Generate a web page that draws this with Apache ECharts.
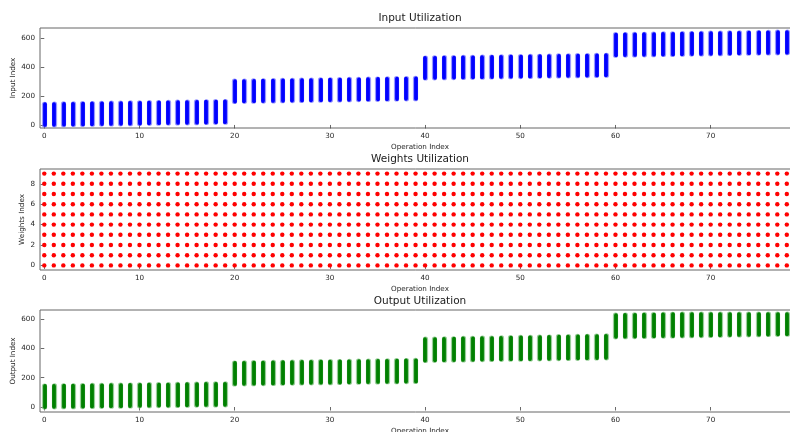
<!DOCTYPE html>
<html>
<head>
<meta charset="utf-8">
<script src="https://cdn.jsdelivr.net/npm/echarts@6/dist/echarts.min.js"></script>
<style>
  html, body { margin: 0; padding: 0; background: #ffffff; }
  #chart { width: 790px; height: 432px; }
</style>
</head>
<body>
<div id="chart"></div>
<script>
// Operation indices on the shared x axis
const ops = [0, 1, 2, 3, 4, 5, 6, 7, 8, 9, 10, 11, 12, 13, 14, 15, 16, 17, 18, 19,
  20, 21, 22, 23, 24, 25, 26, 27, 28, 29, 30, 31, 32, 33, 34, 35, 36, 37, 38, 39,
  40, 41, 42, 43, 44, 45, 46, 47, 48, 49, 50, 51, 52, 53, 54, 55, 56, 57, 58, 59,
  60, 61, 62, 63, 64, 65, 66, 67, 68, 69, 70, 71, 72, 73, 74, 75, 76, 77, 78];

// Range of input indices touched by each operation
const inputStart = [0, 1, 2, 3, 4, 5, 6, 7, 8, 9, 10, 11, 12, 13, 14, 15, 16, 17, 18, 19,
  162, 163, 164, 165, 166, 167, 168, 169, 170, 171, 172, 173, 174, 175, 176, 177, 178, 179, 180, 181,
  324, 325, 326, 327, 328, 329, 330, 331, 332, 333, 334, 335, 336, 337, 338, 339, 340, 341, 342, 343,
  481, 482, 483, 484, 485, 486, 487, 488, 489, 490, 491, 492, 493, 494, 495, 496, 497, 498, 499];
const inputEnd = [143, 144, 145, 146, 147, 148, 149, 150, 151, 152, 153, 154, 155, 156, 157, 158, 159, 160, 161, 162,
  302, 303, 304, 305, 306, 307, 308, 309, 310, 311, 312, 313, 314, 315, 316, 317, 318, 319, 320, 321,
  462, 463, 464, 465, 466, 467, 468, 469, 470, 471, 472, 473, 474, 475, 476, 477, 478, 479, 480, 481,
  623, 624, 625, 626, 627, 628, 629, 630, 631, 632, 633, 634, 635, 636, 637, 638, 639, 640, 641];

// Weight indices used by every operation
const weightIdx = [0, 1, 2, 3, 4, 5, 6, 7, 8, 9];

// Range of output indices written by each operation
const outputStart = [0, 1, 2, 2, 3, 4, 5, 6, 6, 7, 8, 9, 10, 10, 11, 12, 13, 14, 14, 15,
  157, 158, 159, 160, 161, 162, 163, 164, 165, 166, 166, 167, 168, 169, 170, 171, 172, 172, 173, 174,
  317, 318, 319, 320, 321, 322, 323, 324, 325, 326, 326, 327, 328, 329, 330, 331, 332, 333, 334, 335,
  478, 479, 480, 481, 482, 483, 484, 485, 486, 487, 488, 489, 490, 491, 492, 493, 494, 495, 496];
const outputEnd = [143, 144, 145, 145, 146, 147, 148, 149, 149, 150, 151, 152, 153, 153, 154, 155, 156, 157, 157, 158,
  300, 301, 302, 303, 304, 305, 306, 307, 308, 309, 309, 310, 311, 312, 313, 314, 315, 316, 317, 318,
  462, 463, 464, 465, 467, 468, 469, 470, 471, 473, 474, 475, 476, 477, 479, 480, 481, 482, 483, 485,
  626, 627, 628, 629, 630, 631, 632, 633, 633, 633, 633, 633, 633, 633, 633, 633, 633, 633, 633];

// Tick labels
const opTicks = [0, 10, 20, 30, 40, 50, 60, 70];
const indexTicks = [0, 200, 400, 600];
const weightTicks = [0, 2, 4, 6, 8];

const FONT = 'DejaVu Sans';
const TEXT = '#262626';
const FRAME = '#666666';

// One vertical segment per operation, from its first to its last index
const toSegments = (starts, ends) => ops.map((op, i) => ({ coords: [[op, starts[i]], [op, ends[i]]] }));
const inputSegs = toSegments(inputStart, inputEnd);
const outputSegs = toSegments(outputStart, outputEnd);
const weightDots = [];
ops.forEach(op => weightIdx.forEach(w => weightDots.push([op, w])));

const grids = [
  { left: 40, top: 28, width: 751, height: 100 },
  { left: 40, top: 169, width: 751, height: 101 },
  { left: 40, top: 310, width: 751, height: 102 }
].map(g => Object.assign({
  show: true, borderColor: FRAME, borderWidth: 1, backgroundColor: 'transparent',
  containLabel: false, outerBoundsMode: 'none'
}, g));

function xAxisFor(gi) {
  return {
    type: 'value', gridIndex: gi, min: -0.45, max: 78.44,
    name: 'Operation Index', nameLocation: 'middle', nameGap: 16, nameMoveOverlap: false,
    nameTextStyle: { fontFamily: FONT, fontSize: 7.2, color: TEXT, padding: [0, 0, 0, 9] },
    axisLine: { show: false },
    axisTick: { show: true, inside: false, length: 3.5, customValues: opTicks, lineStyle: { color: '#444', width: 0.8 } },
    axisLabel: { fontFamily: FONT, fontSize: 7.2, color: TEXT, margin: 5, customValues: opTicks },
    splitLine: { show: false }
  };
}

function yAxisFor(gi, name, gap, min, max, ticks) {
  return {
    type: 'value', gridIndex: gi, min: min, max: max,
    name: name, nameLocation: 'middle', nameGap: gap, nameRotate: 90, nameMoveOverlap: false,
    nameTextStyle: { fontFamily: FONT, fontSize: 7.2, color: TEXT },
    axisLine: { show: false },
    axisTick: { show: true, inside: false, length: 3.5, customValues: ticks, lineStyle: { color: '#444', width: 0.8 } },
    axisLabel: { fontFamily: FONT, fontSize: 7.2, color: TEXT, margin: 5, customValues: ticks },
    splitLine: { show: false }
  };
}

// A soft halo under a solid core gives the columns their slightly fuzzy edge
function columnSeries(axisIdx, data, core, halo) {
  const base = {
    type: 'lines', coordinateSystem: 'cartesian2d', xAxisIndex: axisIdx, yAxisIndex: axisIdx,
    polyline: false, silent: true, data: data, clip: true
  };
  return [
    Object.assign({}, base, { lineStyle: { color: halo, width: 5.2, cap: 'round', opacity: 1 } }),
    Object.assign({}, base, { lineStyle: { color: core, width: 3.8, cap: 'round', opacity: 1 } })
  ];
}

const titleStyle = { fontFamily: FONT, fontSize: 10.5, fontWeight: 'normal', color: '#1a1a1a' };

const chart = echarts.init(document.getElementById('chart'), null, { renderer: 'canvas' });
chart.setOption({
  animation: false,
  backgroundColor: '#ffffff',
  title: [
    { text: 'Input Utilization', left: 420, top: 13, textAlign: 'center', padding: 0, textStyle: titleStyle },
    { text: 'Weights Utilization', left: 420, top: 154, textAlign: 'center', padding: 0, textStyle: titleStyle },
    { text: 'Output Utilization', left: 420, top: 296, textAlign: 'center', padding: 0, textStyle: titleStyle }
  ],
  grid: grids,
  xAxis: [xAxisFor(0), xAxisFor(1), xAxisFor(2)],
  yAxis: [
    yAxisFor(0, 'Input Index', 23, -21, 669, indexTicks),
    yAxisFor(1, 'Weights Index', 14, -0.45, 9.45, weightTicks),
    yAxisFor(2, 'Output Index', 23, -34, 661, indexTicks)
  ],
  series: [].concat(
    columnSeries(0, inputSegs, '#0000ff', 'rgba(110,110,255,0.7)'),
    [{
      type: 'scatter', xAxisIndex: 1, yAxisIndex: 1,
      symbol: 'circle', symbolSize: 4.4,
      itemStyle: { color: '#ff0000', opacity: 1 },
      data: weightDots
    }],
    columnSeries(2, outputSegs, '#008000', 'rgba(120,190,120,0.75)')
  )
});
</script>
</body>
</html>
